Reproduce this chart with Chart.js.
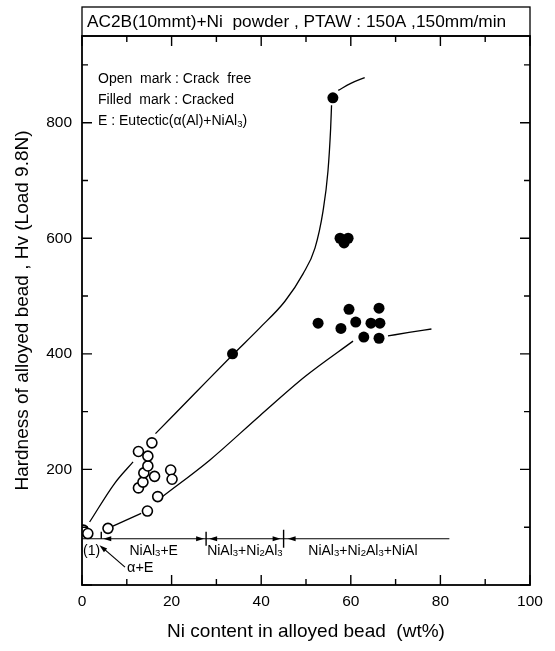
<!DOCTYPE html>
<html>
<head>
<meta charset="utf-8">
<script src="https://cdn.jsdelivr.net/npm/chart.js@4.4.0/dist/chart.umd.min.js"></script>
<style>
html,body{margin:0;background:#fff}
</style>
</head>
<body>
<canvas id="c" width="555" height="651"></canvas>
<script>
const FONT='"Liberation Sans", Arial, sans-serif';

const TITLE="AC2B(10mmt)+Ni  powder , PTAW : 150A ,150mm/min";
const NOTES=["Open  mark : Crack  free","Filled  mark : Cracked","E : Eutectic(\u03b1(Al)+NiAl_3)"];
const X_TITLE="Ni content in alloyed bead  (wt%)";
const Y_TITLE="Hardness of alloyed bead , Hv (Load 9.8N)";

const X_TICKS=[0,20,40,60,80,100];
const Y_TICKS=[200,400,600,800];

/* open mark : crack free */
const OPEN_NI=[0.3,1.3,5.8,14.6,16.9,12.6,13.6,13.8,16.2,14.7,14.7,12.6,15.6,19.8,20.1];
const OPEN_HV=[95,89,98,128,153,168,178,194,188,206,223,231,246,199,183];

/* filled mark : cracked */
const CRACK_NI=[33.6,56.0,57.6,59.4,58.5,52.7,59.6,57.8,61.1,62.9,64.5,66.5,66.3,66.3];
const CRACK_HV=[400,843,600,600,592,453,477,444,455,429,453,453,479,427];

/* guide curves, broken where they meet the marks */
const UPPER_1=[[1.7,109],[7.3,176],[11.4,213]];
const UPPER_2=[[16.4,262],[25,330],[33.6,398],[39.7,445],[45.3,491],[49.3,538],[52,583],[53.8,647],[54.9,716],[55.5,790],[55.7,830]];
const UPPER_3=[[57.2,856],[60,868],[63.1,878]];
const LOWER_1=[[6.9,102],[13.2,124]];
const LOWER_2=[[17.8,152],[28.5,216],[39.7,293],[50,362],[60.5,422]];
const LOWER_3=[[68.3,431],[73,437],[78,443]];

/* phase ranges along the Ni axis */
const PHASE_HV=80;
const PHASE_EDGES=[0,4.3,27.7,45,82];
const PHASE_LABELS=["(1)","NiAl_3+E","NiAl_3+Ni_2Al_3","NiAl_3+Ni_2Al_3+NiAl"];

function pts(xs,ys){return xs.map((x,i)=>({x,y:ys[i]}));}
function curve(arr){
 return {data:arr.map(p=>({x:p[0],y:p[1]})),showLine:true,pointRadius:0,borderColor:"#000",
  borderWidth:1.3,cubicInterpolationMode:"monotone",order:2};
}

function rich(ctx,str,x,y,size,align){
 const parts=str.split(/(_\d)/).filter(Boolean).map(p=>p[0]==="_"?{t:p.slice(1),sub:true}:{t:p,sub:false});
 let w=0;
 parts.forEach(p=>{ctx.font=(p.sub?size*0.68:size)+"px "+FONT;p.w=ctx.measureText(p.t).width;w+=p.w;});
 let cx=align==="center"?x-w/2:x;
 ctx.textAlign="left";ctx.textBaseline="middle";
 parts.forEach(p=>{
  ctx.font=(p.sub?size*0.68:size)+"px "+FONT;
  ctx.fillText(p.t,cx,p.sub?y+size*0.22:y);
  cx+=p.w;
 });
}

function arrow(ctx,tx,ty,dir){
 ctx.beginPath();
 ctx.moveTo(tx,ty);
 ctx.lineTo(tx+dir*8,ty-2.5);
 ctx.lineTo(tx+dir*8,ty+2.5);
 ctx.closePath();
 ctx.fill();
}

const decor={
 id:"decor",
 afterDatasetsDraw(chart){
  const ctx=chart.ctx,a=chart.chartArea,xs=chart.scales.x,ys=chart.scales.y;
  ctx.save();
  ctx.strokeStyle="#000";ctx.fillStyle="#000";

  // frame + title box
  ctx.lineWidth=1.8;
  ctx.strokeRect(a.left,a.top,a.right-a.left,a.bottom-a.top);
  ctx.lineWidth=1.3;
  ctx.strokeRect(a.left,7,a.right-a.left,a.top-7);
  ctx.font="17.3px "+FONT;ctx.textAlign="left";ctx.textBaseline="middle";
  ctx.fillText(TITLE,a.left+5,22);

  // inward ticks on all four sides
  ctx.lineWidth=1.4;
  for(let v=0;v<=100;v+=10){
   const px=xs.getPixelForValue(v),len=v%20===0?10:6;
   ctx.beginPath();
   ctx.moveTo(px,a.bottom);ctx.lineTo(px,a.bottom-len);
   ctx.moveTo(px,a.top);ctx.lineTo(px,a.top+len);
   ctx.stroke();
  }
  for(let v=0;v<=900;v+=100){
   const py=ys.getPixelForValue(v),len=v%200===0?10:6;
   ctx.beginPath();
   ctx.moveTo(a.left,py);ctx.lineTo(a.left+len,py);
   ctx.moveTo(a.right,py);ctx.lineTo(a.right-len,py);
   ctx.stroke();
  }

  // notes
  NOTES.forEach((t,i)=>rich(ctx,t,a.left+16,a.top+43+i*21,14,"left"));

  // phase ranges
  const py=ys.getPixelForValue(PHASE_HV);
  const ex=PHASE_EDGES.map(v=>xs.getPixelForValue(v));
  ctx.lineWidth=1.2;
  ctx.beginPath();ctx.moveTo(ex[0],py);ctx.lineTo(ex[4],py);ctx.stroke();
  ctx.lineWidth=1.4;
  ctx.beginPath();
  ctx.moveTo(ex[1],py);ctx.lineTo(ex[1],py-7);
  ctx.moveTo(ex[2],py-7);ctx.lineTo(ex[2],py+7);
  ctx.moveTo(ex[3],py-9);ctx.lineTo(ex[3],py+9);
  ctx.stroke();
  arrow(ctx,ex[1]+2,py,1);
  arrow(ctx,ex[2]-2,py,-1);
  arrow(ctx,ex[2]+3,py,1);
  arrow(ctx,ex[3]-3,py,-1);
  arrow(ctx,ex[3]+4,py,1);
  ctx.fillStyle="#000";
  PHASE_LABELS.forEach((t,i)=>{
   const cx=i===3?xs.getPixelForValue(62.7):(ex[i]+ex[i+1])/2;
   rich(ctx,t,cx,py+12,14,"center");
  });

  // alpha+E pointer
  const ax=xs.getPixelForValue(3.9),ay=ys.getPixelForValue(69);
  const bx=xs.getPixelForValue(9.6),by=ys.getPixelForValue(31);
  ctx.lineWidth=1.2;
  ctx.beginPath();ctx.moveTo(ax+3,ay+2.5);ctx.lineTo(bx,by);ctx.stroke();
  const ang=Math.atan2(by-ay,bx-ax);
  ctx.beginPath();
  ctx.moveTo(ax,ay);
  ctx.lineTo(ax+8*Math.cos(ang)-2.5*Math.sin(ang),ay+8*Math.sin(ang)+2.5*Math.cos(ang));
  ctx.lineTo(ax+8*Math.cos(ang)+2.5*Math.sin(ang),ay+8*Math.sin(ang)-2.5*Math.cos(ang));
  ctx.closePath();ctx.fill();
  rich(ctx,"\u03b1+E",bx+2,by+1,14.5,"left");
  ctx.restore();
 }
};

new Chart(document.getElementById("c"),{
 type:"scatter",
 data:{datasets:[
  {data:pts(CRACK_NI,CRACK_HV),pointRadius:5.5,pointBackgroundColor:"#000",pointBorderWidth:0,order:0},
  {data:pts(OPEN_NI,OPEN_HV),pointRadius:5,pointBackgroundColor:"#fff",pointBorderColor:"#000",pointBorderWidth:1.6,order:0},
  curve(UPPER_1),curve(UPPER_2),curve(UPPER_3),
  curve(LOWER_1),curve(LOWER_2),curve(LOWER_3)
 ]},
 plugins:[decor],
 options:{
  responsive:false,animation:false,devicePixelRatio:1,
  layout:{padding:{top:36,right:25,left:0,bottom:0}},
  plugins:{legend:{display:false},tooltip:{enabled:false}},
  scales:{
   x:{type:"linear",min:0,max:100,
    afterBuildTicks:s=>{s.ticks=X_TICKS.map(v=>({value:v}));},
    afterFit:s=>{s.height=66;},
    grid:{display:false,drawTicks:false},border:{display:false},
    ticks:{color:"#000",padding:7,maxRotation:0,font:{family:FONT,size:15.5}},
    title:{display:true,text:X_TITLE,color:"#000",font:{family:FONT,size:19},padding:{top:6,bottom:8}}
   },
   y:{type:"linear",min:0,max:950,
    afterBuildTicks:s=>{s.ticks=Y_TICKS.map(v=>({value:v}));},
    afterFit:s=>{s.width=82;},
    grid:{display:false,drawTicks:false},border:{display:false},
    ticks:{color:"#000",padding:10,font:{family:FONT,size:15.5}},
    title:{display:true,text:Y_TITLE,color:"#000",font:{family:FONT,size:19},padding:{top:11,bottom:0}}
   }
  }
 }
});
</script>
</body>
</html>
